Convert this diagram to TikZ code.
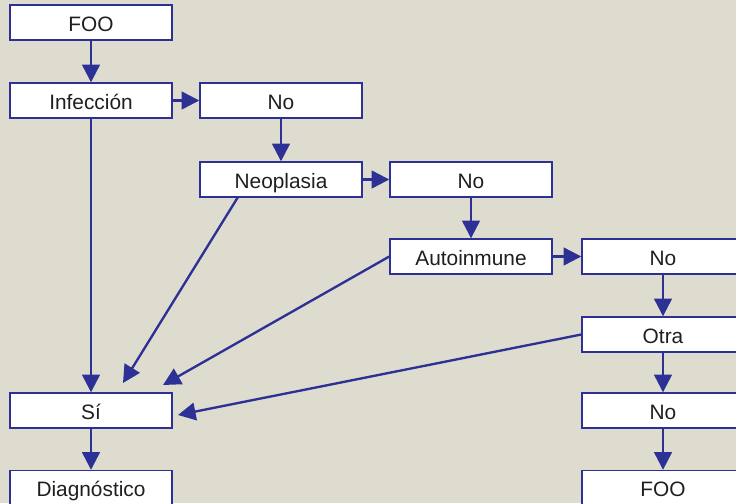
\documentclass[tikz,border=0pt]{standalone}
\usepackage{fontspec}
\setmainfont{Liberation Sans}
\usetikzlibrary{arrows.meta}
\definecolor{fondo}{RGB}{221,220,207}
\definecolor{azul}{RGB}{45,48,148}

\begin{document}
\begin{tikzpicture}
  [x=0.03cm,y=-0.03cm,
   every node/.style={draw=azul,line width=1.2pt,fill=white,inner sep=0pt,
     minimum width=4.86cm,minimum height=1.05cm,text height=15pt,text depth=0pt,
     font=\fontsize{17.8}{20}\selectfont,text=black!88},
   flecha/.style={draw=azul,line width=2pt,-{Triangle[length=15pt,width=15pt]}}]
  \useasboundingbox (0,0) rectangle (736,503);
  \clip (0,0) rectangle (736,503);
  \fill[fondo] (0,0) rectangle (736,503);

  \node (foo)  at (91,22.5)   {FOO};
  \node (inf)  at (91,100.5)  {Infección};
  \node (no1)  at (281,100.5) {No};
  \node (neo)  at (281,179.5) {Neoplasia};
  \node (no2)  at (471,179.5) {No};
  \node (aut)  at (471,256.5) {Autoinmune};
  \node (no3)  at (663,256.5) {No};
  \node (otra) at (663,334.5) {Otra};
  \node (si)   at (91,410.5)  {Sí};
  \node (no4)  at (663,410.5) {No};
  \node (diag) at (91,488)    {Diagnóstico};
  \node (foo2) at (663,488)   {FOO};

  % extremos de las flechas hacia Sí
  \coordinate (d0) at (238,197);
  \coordinate (d1) at (123,383);
  \coordinate (d2) at (163,385);
  \coordinate (d3) at (178,415);

\foreach \from/\to in
{foo.south/inf.north, inf.east/no1.west, no1.south/neo.north, neo.east/no2.west,
 no2.south/aut.north, aut.east/no3.west, no3.south/otra.north, otra.south/no4.north,
 no4.south/foo2.north, inf.south/si.north, si.south/diag.north}
    \draw[flecha] (\from) -- (\to);
    \draw[flecha] (d0) -- (d1);
    \draw[flecha] (aut.west) -- (d2);
    \draw[flecha] (otra.west) -- (d3);
\end{tikzpicture}
\end{document}
